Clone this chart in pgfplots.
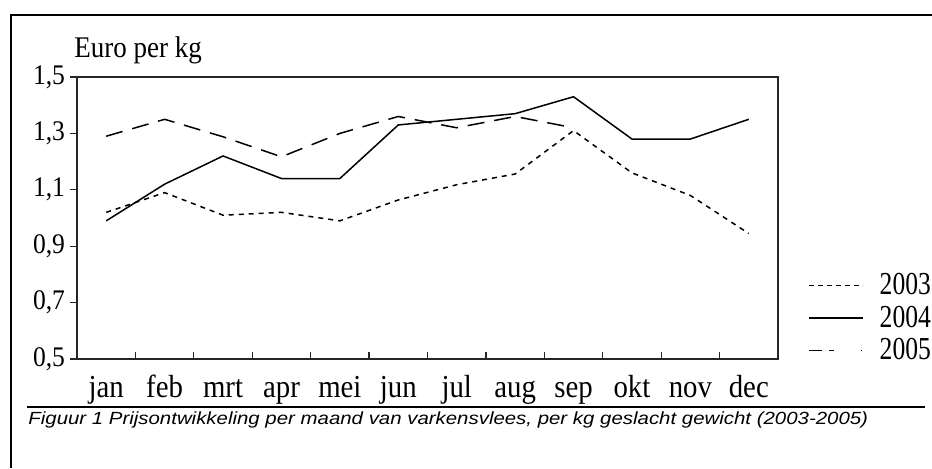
\documentclass[border=0pt]{standalone}
\usepackage{fontspec}
\setmainfont{Liberation Serif}[FakeStretch=0.9]
\newfontfamily\legfont{Liberation Serif}[FakeStretch=0.8]
\newfontfamily\capfont{Liberation Sans}[FakeStretch=1.16]
\usepackage{pgfplots}
\pgfplotsset{compat=1.18}
\begin{document}
\begin{tikzpicture}
\path[use as bounding box] (0pt,0pt) rectangle (466pt,234pt);
\draw[line width=1pt] (4.75pt,226.5pt) -- (466pt,226.5pt);
\draw[line width=1pt] (5.25pt,227pt) -- (5.25pt,0pt);
\draw[line width=1pt] (13.5pt,30.5pt) -- (462.5pt,30.5pt);
\node[anchor=base west, inner sep=0pt, font=\capfont\itshape\fontsize{8.8}{11}\selectfont] at (14pt,21.6pt) {Figuur 1 Prijsontwikkeling per maand van varkensvlees, per kg geslacht gewicht (2003-2005)};
\node[anchor=base west, inner sep=0pt, font=\fontsize{15}{18}\selectfont] at (37pt,205.5pt) {Euro per kg};
\begin{axis}[
  at={(38.5pt,54.5pt)}, anchor=south west,
  scale only axis, width=350.5pt, height=141pt,
  xmin=0.5, xmax=12.5, ymin=0.5, ymax=1.5,
  tick pos=left,
  xtick={1,...,12},
  xticklabels={jan,feb,mrt,apr,mei,jun,jul,aug,sep,okt,nov,dec},
  major x tick style={draw=none},
  minor xtick={1.5,2.5,...,11.5},
  xtick align=inside, ytick align=outside,
  major tick length=3.5pt, minor tick length=3.5pt,
  ytick={0.5,0.7,0.9,1.1,1.3,1.5},
  yticklabel style={/pgf/number format/fixed, /pgf/number format/fixed zerofill, /pgf/number format/precision=1, /pgf/number format/use comma},
  /pgf/number format/assume math mode=true,
  x tick label style={font=\fontsize{16}{19}\selectfont, anchor=base, yshift=-19pt},
  y tick label style={font=\fontsize{14.2}{16}\selectfont, anchor=east, inner sep=0pt, xshift=-2.3pt},
  axis line style={line width=0.65pt, color=black!85},
  every tick/.style={line width=0.65pt, color=black!85},
  legend style={draw=none, fill=none, inner sep=0pt, at={(1.043,-0.028)}, anchor=south west,
    font=\legfont\fontsize{16}{16}\selectfont, row sep=0pt,
    nodes={inner xsep=0pt},
    /tikz/every odd column/.append style={column sep=8pt}},
  legend cell align=left,
]
\addplot[black, line width=0.75pt, dash pattern=on 2.5pt off 2.5pt,
  legend image code/.code={\draw[black, line width=0.5pt, dash pattern=on 2.2pt off 2.3pt] (0pt,0pt) -- (27pt,0pt);}]
  coordinates {(1,1.02) (2,1.09) (3,1.01) (4,1.02) (5,0.99) (6,1.064) (7,1.118) (8,1.156) (9,1.31) (10,1.16) (11,1.08) (12,0.945)};
\addlegendentry{2003}
\addplot[black, line width=0.75pt,
  legend image code/.code={\draw[black, line width=0.6pt] (0pt,0pt) -- (27pt,0pt);}]
  coordinates {(1,0.99) (2,1.12) (3,1.22) (4,1.14) (5,1.14) (6,1.33) (7,1.35) (8,1.37) (9,1.43) (10,1.28) (11,1.28) (12,1.35)};
\addlegendentry{2004}
\addplot[black, line width=0.75pt, dash pattern=on 8.5pt off 5pt,
  legend image code/.code={\draw[black, line width=0.6pt, dash pattern=on 6.5pt off 3.5pt on 2.5pt off 13.5pt on 0.6pt] (0pt,0pt) -- (27pt,0pt);}]
  coordinates {(1,1.29) (2,1.35) (3,1.288) (4,1.217) (5,1.30) (6,1.36) (7,1.32) (8,1.36) (9,1.32)};
\addlegendentry{2005}
\end{axis}
\end{tikzpicture}
\end{document}
